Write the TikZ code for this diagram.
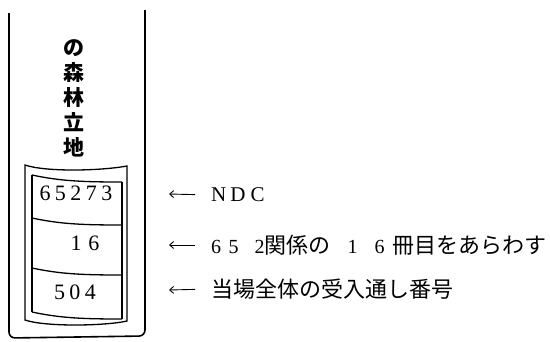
\documentclass[tikz,border=0pt]{standalone}
\usepackage{fontspec}
\setmainfont{Liberation Serif}
\newfontfamily\cjk{Noto Sans CJK JP}
\usetikzlibrary{arrows.meta}

\tikzset{
  spine/.style={line width=1.6pt, rounded corners=6pt},
  lbl/.style={line width=1.3pt},
  num/.style={inner sep=0pt, font=\fontsize{22}{22}\selectfont},
  note/.style={inner sep=0pt, anchor=west, font=\cjk\fontsize{22}{22}\selectfont},
  pointer/.style={-{Straight Barb[length=4pt,width=7pt]}, line width=0.9pt,
    shorten <=16pt}
}

\newcommand{\gp}{\hspace{4.5pt}}
\newcommand{\sr}[1]{{\rmfamily\fontsize{20}{20}\selectfont #1}}

% one curved line across the inner label
\newcommand{\shelf}[1]{
  \draw [lbl] (32,#1) .. controls +(28,6) and +(-40,0) .. (122,#1+7);
}

\newcommand{\spine}{
  \coordinate (s0) at (9,13);
  \coordinate (s1) at (145,10);

  \draw [spine] (s0) -- (9,338) -- (145,336) -- (s1);

  % outer label
  \draw [lbl] (25,165) .. controls (45,172) and (100,171) .. (127,166)
    -- (127,321) .. controls (105,326) and (45,327) .. (25,320) -- cycle;

  % inner label
  \draw [lbl] (32,175) -- (32,312);
  \draw [lbl] (122,182) -- (122,319);
  \shelf{175}
  \shelf{218}
  \shelf{268}
  \shelf{312}
}

\begin{document}
\begin{tikzpicture}[x=1pt,y=-1pt]
    \useasboundingbox (0,0) rectangle (550,341);
    \spine

    \node (title) [align=center, inner sep=0pt,
    font=\cjk\bfseries\fontsize{21}{25}\selectfont] at (74,98)
    {の\\森\\林\\立\\地};

    \node (cls) [num] at (76,193) {6\gp5\gp2\gp7\gp3};
    \node (vol) [num] at (85,243) {1\hspace{7pt}6};
    \node (acc) [num] at (75,292) {5\gp0\gp4};

    \coordinate (h1) at (169,194);
    \coordinate (h2) at (169,245);
    \coordinate (h3) at (169,290);

    \node (ndc) [note] at (211,195)
    {\rmfamily\fontsize{21}{21}\selectfont N\hspace{4pt}D\hspace{5pt}C};
    \node (ser) [note] at (211,245)
    {\sr{6}\hspace{7.5pt}\sr{5}\hspace{16pt}\sr{2}関係の\hspace{17pt}\sr{1}\hspace{17pt}\sr{6}\hspace{8pt}冊目をあらわす};
    \node (reg) [note] at (211,289) {当場全体の受入通し番号};

    \draw [pointer] (ndc.west) -- (h1);
    \draw [pointer] (ser.west) -- (h2);
    \draw [pointer] (reg.west) -- (h3);
\end{tikzpicture}
\end{document}
